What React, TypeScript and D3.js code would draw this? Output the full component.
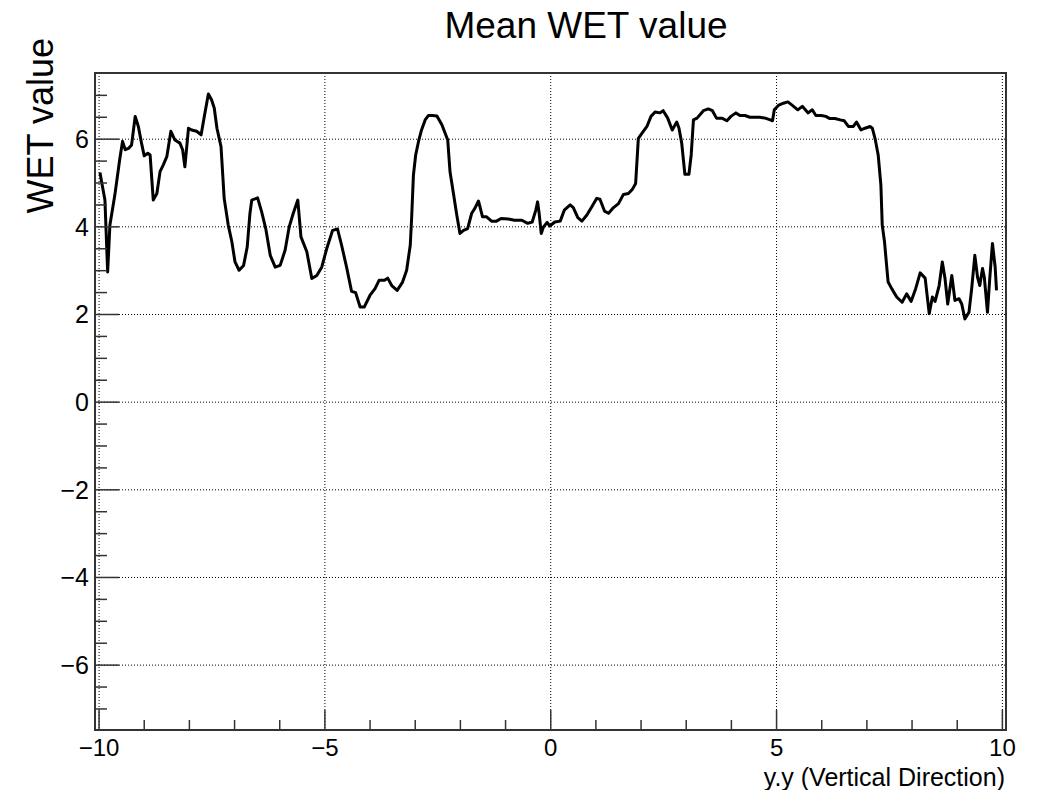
import React from 'react';
import * as d3 from 'd3';

// values (x = position, y = mean WET)
const wetX = [
  -9.98, -9.93, -9.87, -9.81, -9.76, -9.65, -9.54, -9.48, -9.42, -9.35,
  -9.28, -9.2, -9.13, -9.06, -9.0, -8.92, -8.87, -8.8, -8.72, -8.65,
  -8.58, -8.5, -8.41, -8.32, -8.21, -8.15, -8.1, -8.02, -7.95, -7.84,
  -7.74, -7.67, -7.58, -7.51, -7.45, -7.39, -7.3, -7.23, -7.14, -7.06,
  -6.99, -6.9, -6.8, -6.72, -6.66, -6.62, -6.49, -6.4, -6.31, -6.21,
  -6.1, -5.99, -5.88, -5.79, -5.7, -5.6, -5.53, -5.4, -5.29, -5.18,
  -5.07, -4.96, -4.83, -4.72, -4.63, -4.52, -4.41, -4.32, -4.22, -4.13,
  -4.0, -3.89, -3.8, -3.68, -3.61, -3.52, -3.4, -3.28, -3.19, -3.11,
  -3.08, -3.04, -2.99, -2.92, -2.86, -2.78, -2.71, -2.62, -2.52, -2.41,
  -2.34, -2.28, -2.23, -2.16, -2.08, -2.01, -1.93, -1.84, -1.75, -1.68,
  -1.6, -1.51, -1.42, -1.31, -1.2, -1.1, -0.94, -0.8, -0.64, -0.51,
  -0.41, -0.33, -0.29, -0.26, -0.21, -0.16, -0.08, -0.02, 0.09, 0.21,
  0.3, 0.43, 0.5, 0.6, 0.69, 0.8, 0.91, 1.02, 1.09, 1.19,
  1.28, 1.39, 1.5, 1.61, 1.72, 1.81, 1.88, 1.94, 2.05, 2.13,
  2.22, 2.31, 2.42, 2.49, 2.59, 2.69, 2.79, 2.84, 2.9, 2.97,
  3.06, 3.11, 3.16, 3.24, 3.38, 3.49, 3.58, 3.67, 3.79, 3.9,
  3.99, 4.1, 4.19, 4.3, 4.41, 4.52, 4.63, 4.75, 4.86, 4.91,
  4.95, 5.04, 5.15, 5.25, 5.35, 5.47, 5.57, 5.7, 5.79, 5.87,
  5.99, 6.09, 6.18, 6.29, 6.41, 6.5, 6.59, 6.7, 6.77, 6.87,
  6.96, 7.07, 7.12, 7.18, 7.25, 7.31, 7.34, 7.39, 7.44, 7.47,
  7.55, 7.66, 7.78, 7.88, 7.98, 8.08, 8.18, 8.29, 8.38, 8.45,
  8.51, 8.6, 8.67, 8.73, 8.79, 8.88, 8.95, 9.04, 9.1, 9.17,
  9.26, 9.32, 9.39, 9.45, 9.5, 9.56, 9.6, 9.67, 9.72, 9.78,
  9.84, 9.87
];
const wetY = [
  5.24, 4.95, 4.61, 2.97, 4.04, 4.73, 5.56, 5.95, 5.76, 5.79,
  5.87, 6.52, 6.29, 5.91, 5.62, 5.68, 5.64, 4.61, 4.76, 5.26,
  5.41, 5.6, 6.18, 5.98, 5.91, 5.76, 5.37, 6.25, 6.21, 6.18,
  6.1, 6.52, 7.03, 6.9, 6.71, 6.25, 5.83, 4.65, 4.04, 3.66,
  3.2, 3.01, 3.12, 3.54, 4.3, 4.61, 4.66, 4.34, 3.96, 3.35,
  3.08, 3.12, 3.47, 4.0, 4.31, 4.61, 3.77, 3.43, 2.82, 2.89,
  3.08, 3.5, 3.92, 3.95, 3.58, 3.08, 2.53, 2.5, 2.17, 2.17,
  2.44, 2.59, 2.78, 2.78, 2.83, 2.66, 2.55, 2.74, 3.01, 3.58,
  4.19, 5.18, 5.64, 5.98, 6.21, 6.44, 6.54, 6.54, 6.53, 6.33,
  6.14, 5.98, 5.26, 4.8, 4.27, 3.85, 3.92, 3.96, 4.31, 4.42,
  4.59, 4.23, 4.23, 4.13, 4.13, 4.19, 4.18, 4.15, 4.15, 4.08,
  4.11, 4.38, 4.57, 4.34, 3.85, 4.0, 4.1, 4.02, 4.11, 4.13,
  4.38, 4.5, 4.44, 4.21, 4.13, 4.27, 4.46, 4.65, 4.63, 4.36,
  4.31, 4.44, 4.53, 4.74, 4.76, 4.86, 4.99, 6.02, 6.18, 6.29,
  6.52, 6.62, 6.6, 6.65, 6.48, 6.21, 6.39, 6.25, 5.91, 5.2,
  5.2, 5.64, 6.44, 6.48, 6.65, 6.69, 6.65, 6.48, 6.48, 6.42,
  6.52, 6.6, 6.54, 6.54, 6.5, 6.5, 6.5, 6.48, 6.44, 6.42,
  6.67, 6.77, 6.82, 6.85, 6.77, 6.67, 6.75, 6.6, 6.67, 6.54,
  6.54, 6.52, 6.47, 6.47, 6.44, 6.42, 6.29, 6.29, 6.39, 6.21,
  6.25, 6.29, 6.25, 6.02, 5.64, 4.95, 4.04, 3.66, 3.08, 2.74,
  2.59, 2.4, 2.28, 2.47, 2.3, 2.59, 2.95, 2.83, 2.02, 2.4,
  2.3, 2.66, 3.2, 2.82, 2.24, 2.89, 2.32, 2.36, 2.24, 1.9,
  2.05, 2.59, 3.35, 2.85, 2.66, 3.05, 2.85, 2.05, 2.82, 3.62,
  3.08, 2.55
];

const xMajor = [-10, -5, 0, 5, 10];
const yMajor = [-6, -4, -2, 0, 2, 4, 6];

const title = 'Mean WET value';
const xTitle = 'y.y (Vertical Direction)';
const yTitle = 'WET value';

const FONT = '"Liberation Sans", Arial, Helvetica, sans-serif';

export default function App() {
  const width = 1041;
  const height = 790;
  const fr = { left: 95, right: 1006, top: 73, bottom: 730 };

  const x = d3.scaleLinear().domain([-10.09, 10.08]).range([fr.left, fr.right]);
  const y = d3.scaleLinear().domain([-7.48, 7.51]).range([fr.bottom, fr.top]);

  const xMinor = d3.range(-10, 10.001, 1).filter(v => !xMajor.includes(v));
  const yMinor = d3.range(-7, 7.001, 0.5).filter(v => !yMajor.includes(v));

  const fmt = d3.format('d');

  const pts: [number, number][] = wetX.map((v, i) => [v, wetY[i]]);
  const lineGen = d3.line<[number, number]>()
    .x(d => x(d[0]))
    .y(d => y(d[1]));

  const axisColor = '#333';

  return (
    <svg width={width} height={height}
      style={{ position: 'absolute', left: 0, top: 0, background: '#fff' }}
      fontFamily={FONT}>
      <rect x={0} y={0} width={width} height={height} fill="#fff" />

      {/* grid */}
      <g stroke="#000" strokeWidth={1} strokeDasharray="1 2">
        {xMajor.map(v => (
          <line key={'gx' + v} x1={x(v)} x2={x(v)} y1={fr.top} y2={fr.bottom} />
        ))}
        {yMajor.map(v => (
          <line key={'gy' + v} x1={fr.left} x2={fr.right} y1={y(v)} y2={y(v)} />
        ))}
      </g>

      {/* data */}
      <path d={lineGen(pts) || ''} fill="none" stroke="#000" strokeWidth={3}
        strokeLinejoin="round" />

      {/* frame */}
      <rect x={fr.left} y={fr.top} width={fr.right - fr.left} height={fr.bottom - fr.top}
        fill="none" stroke={axisColor} strokeWidth={2} />

      {/* ticks */}
      <g stroke={axisColor} strokeWidth={1.5}>
        {xMajor.map(v => (
          <line key={'xt' + v} x1={x(v)} x2={x(v)} y1={fr.bottom} y2={fr.bottom - 20} />
        ))}
        {xMinor.map(v => (
          <line key={'xm' + v} x1={x(v)} x2={x(v)} y1={fr.bottom} y2={fr.bottom - 10} />
        ))}
        {yMajor.map(v => (
          <line key={'yt' + v} x1={fr.left} x2={fr.left + 24} y1={y(v)} y2={y(v)} />
        ))}
        {yMinor.map(v => (
          <line key={'ym' + v} x1={fr.left} x2={fr.left + 12} y1={y(v)} y2={y(v)} />
        ))}
      </g>

      {/* tick labels */}
      <g fontSize={24} fill="#000" textAnchor="middle">
        {xMajor.map(v => (
          <text key={'xl' + v} x={x(v)} y={756}>{fmt(v)}</text>
        ))}
      </g>
      <g fontSize={25} fill="#000" textAnchor="end">
        {yMajor.map(v => (
          <text key={'yl' + v} x={89} y={y(v)} dy="0.36em">{fmt(v)}</text>
        ))}
      </g>

      {/* titles */}
      <text x={586} y={38} fontSize={37} textAnchor="middle" fill="#000">{title}</text>
      <text x={1005} y={786} fontSize={25} textAnchor="end" fill="#000">{xTitle}</text>
      <text transform="translate(53,38) rotate(-90)" fontSize={36} textAnchor="end" fill="#000">{yTitle}</text>
    </svg>
  );
}
